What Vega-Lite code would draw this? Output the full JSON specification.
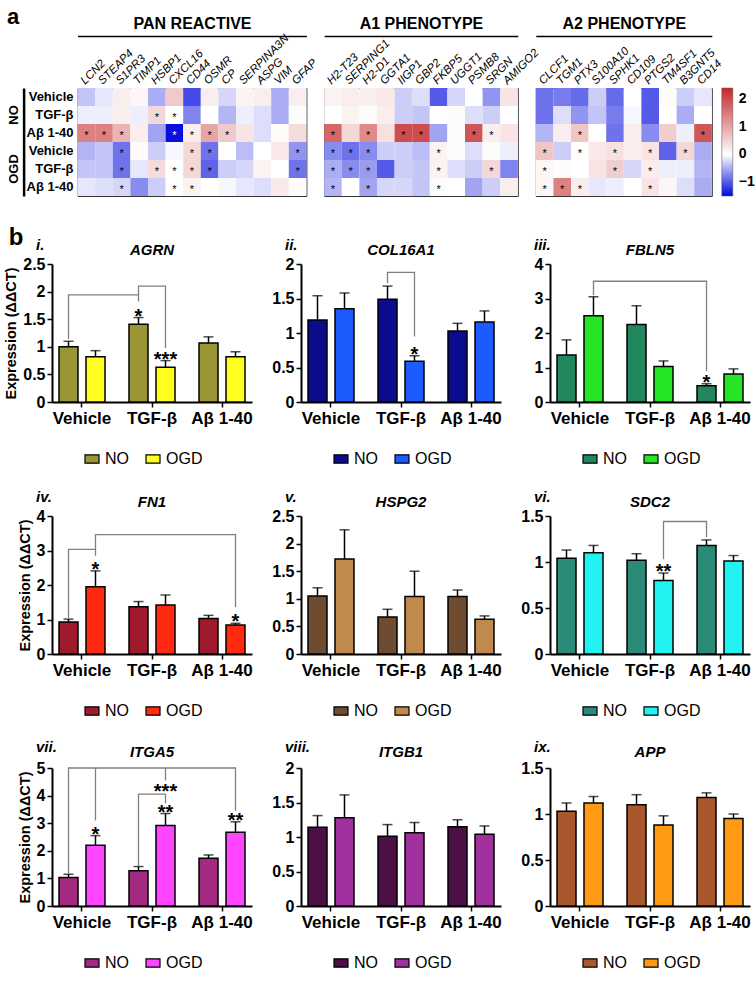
{
"$schema":"https://vega.github.io/schema/vega-lite/v6.json",
"background":"white",
"padding":{"left":3,"right":5,"top":5,"bottom":0},
"config":{"font":"Liberation Sans","view":{"stroke":null},"axis":{"grid":false,"labelColor":"black","domainColor":"black","tickColor":"black","titleColor":"black","labelFont":"Liberation Sans","titleFont":"Liberation Sans"},"title":{"color":"black","fontWeight":"bold","font":"Liberation Sans"},"text":{"color":"black"},"legend":{"labelColor":"black","labelFont":"Liberation Sans"}},
"datasets":{
"heat":[
{"g":"LCN2","r":"NO|Vehicle","v":-0.35,"s":""},{"g":"LCN2","r":"NO|TGF-β","v":-0.1,"s":""},{"g":"LCN2","r":"NO|Aβ 1-40","v":1.4,"s":"*"},{"g":"LCN2","r":"OGD|Vehicle","v":-0.45,"s":""},{"g":"LCN2","r":"OGD|TGF-β","v":-0.35,"s":""},{"g":"LCN2","r":"OGD|Aβ 1-40","v":-0.15,"s":""},
{"g":"STEAP4","r":"NO|Vehicle","v":-0.15,"s":""},{"g":"STEAP4","r":"NO|TGF-β","v":-0.1,"s":""},{"g":"STEAP4","r":"NO|Aβ 1-40","v":1.4,"s":"*"},{"g":"STEAP4","r":"OGD|Vehicle","v":-0.35,"s":""},{"g":"STEAP4","r":"OGD|TGF-β","v":-0.35,"s":""},{"g":"STEAP4","r":"OGD|Aβ 1-40","v":-0.2,"s":""},
{"g":"S1PR3","r":"NO|Vehicle","v":0.2,"s":""},{"g":"S1PR3","r":"NO|TGF-β","v":0.2,"s":""},{"g":"S1PR3","r":"NO|Aβ 1-40","v":0.85,"s":"*"},{"g":"S1PR3","r":"OGD|Vehicle","v":-0.85,"s":"*"},{"g":"S1PR3","r":"OGD|TGF-β","v":-0.85,"s":"*"},{"g":"S1PR3","r":"OGD|Aβ 1-40","v":-0.25,"s":"*"},
{"g":"TIMP1","r":"NO|Vehicle","v":0.1,"s":""},{"g":"TIMP1","r":"NO|TGF-β","v":-0.1,"s":""},{"g":"TIMP1","r":"NO|Aβ 1-40","v":0.2,"s":""},{"g":"TIMP1","r":"OGD|Vehicle","v":0.05,"s":""},{"g":"TIMP1","r":"OGD|TGF-β","v":-0.15,"s":""},{"g":"TIMP1","r":"OGD|Aβ 1-40","v":-0.7,"s":""},
{"g":"HSBP1","r":"NO|Vehicle","v":-0.5,"s":""},{"g":"HSBP1","r":"NO|TGF-β","v":0.45,"s":"*"},{"g":"HSBP1","r":"NO|Aβ 1-40","v":-0.55,"s":""},{"g":"HSBP1","r":"OGD|Vehicle","v":-0.3,"s":""},{"g":"HSBP1","r":"OGD|TGF-β","v":0.4,"s":"*"},{"g":"HSBP1","r":"OGD|Aβ 1-40","v":-0.3,"s":""},
{"g":"CXCL16","r":"NO|Vehicle","v":0.6,"s":""},{"g":"CXCL16","r":"NO|TGF-β","v":0.0,"s":"*"},{"g":"CXCL16","r":"NO|Aβ 1-40","v":-1.45,"s":"*"},{"g":"CXCL16","r":"OGD|Vehicle","v":-0.05,"s":""},{"g":"CXCL16","r":"OGD|TGF-β","v":0.0,"s":"*"},{"g":"CXCL16","r":"OGD|Aβ 1-40","v":0.0,"s":"*"},
{"g":"CD44","r":"NO|Vehicle","v":-1.1,"s":""},{"g":"CD44","r":"NO|TGF-β","v":-0.75,"s":""},{"g":"CD44","r":"NO|Aβ 1-40","v":0.2,"s":"*"},{"g":"CD44","r":"OGD|Vehicle","v":0.45,"s":"*"},{"g":"CD44","r":"OGD|TGF-β","v":0.45,"s":"*"},{"g":"CD44","r":"OGD|Aβ 1-40","v":0.15,"s":"*"},
{"g":"OSMR","r":"NO|Vehicle","v":0.2,"s":""},{"g":"OSMR","r":"NO|TGF-β","v":0.0,"s":""},{"g":"OSMR","r":"NO|Aβ 1-40","v":1.0,"s":"*"},{"g":"OSMR","r":"OGD|Vehicle","v":-0.85,"s":"*"},{"g":"OSMR","r":"OGD|TGF-β","v":-0.95,"s":"*"},{"g":"OSMR","r":"OGD|Aβ 1-40","v":0.0,"s":""},
{"g":"CP","r":"NO|Vehicle","v":-0.25,"s":""},{"g":"CP","r":"NO|TGF-β","v":-0.45,"s":""},{"g":"CP","r":"NO|Aβ 1-40","v":0.6,"s":"*"},{"g":"CP","r":"OGD|Vehicle","v":0.0,"s":""},{"g":"CP","r":"OGD|TGF-β","v":-0.3,"s":""},{"g":"CP","r":"OGD|Aβ 1-40","v":-0.05,"s":""},
{"g":"SERPINA3N","r":"NO|Vehicle","v":0.15,"s":""},{"g":"SERPINA3N","r":"NO|TGF-β","v":-0.1,"s":""},{"g":"SERPINA3N","r":"NO|Aβ 1-40","v":0.3,"s":""},{"g":"SERPINA3N","r":"OGD|Vehicle","v":-0.4,"s":""},{"g":"SERPINA3N","r":"OGD|TGF-β","v":-0.25,"s":""},{"g":"SERPINA3N","r":"OGD|Aβ 1-40","v":-0.15,"s":""},
{"g":"ASPG","r":"NO|Vehicle","v":0.2,"s":""},{"g":"ASPG","r":"NO|TGF-β","v":-0.2,"s":""},{"g":"ASPG","r":"NO|Aβ 1-40","v":-0.2,"s":""},{"g":"ASPG","r":"OGD|Vehicle","v":0.0,"s":""},{"g":"ASPG","r":"OGD|TGF-β","v":0.15,"s":""},{"g":"ASPG","r":"OGD|Aβ 1-40","v":-0.2,"s":""},
{"g":"VIM","r":"NO|Vehicle","v":-0.5,"s":""},{"g":"VIM","r":"NO|TGF-β","v":-0.5,"s":""},{"g":"VIM","r":"NO|Aβ 1-40","v":0.05,"s":""},{"g":"VIM","r":"OGD|Vehicle","v":0.25,"s":""},{"g":"VIM","r":"OGD|TGF-β","v":0.0,"s":""},{"g":"VIM","r":"OGD|Aβ 1-40","v":0.25,"s":""},
{"g":"GFAP","r":"NO|Vehicle","v":0.2,"s":""},{"g":"GFAP","r":"NO|TGF-β","v":0.05,"s":""},{"g":"GFAP","r":"NO|Aβ 1-40","v":0.4,"s":""},{"g":"GFAP","r":"OGD|Vehicle","v":-0.65,"s":"*"},{"g":"GFAP","r":"OGD|TGF-β","v":-0.85,"s":"*"},{"g":"GFAP","r":"OGD|Aβ 1-40","v":0.05,"s":""},
{"g":"H2-T23","r":"NO|Vehicle","v":0.15,"s":""},{"g":"H2-T23","r":"NO|TGF-β","v":0.0,"s":""},{"g":"H2-T23","r":"NO|Aβ 1-40","v":1.7,"s":"*"},{"g":"H2-T23","r":"OGD|Vehicle","v":-0.7,"s":"*"},{"g":"H2-T23","r":"OGD|TGF-β","v":-0.5,"s":"*"},{"g":"H2-T23","r":"OGD|Aβ 1-40","v":-0.45,"s":"*"},
{"g":"SERPING1","r":"NO|Vehicle","v":0.2,"s":""},{"g":"SERPING1","r":"NO|TGF-β","v":0.15,"s":""},{"g":"SERPING1","r":"NO|Aβ 1-40","v":0.45,"s":""},{"g":"SERPING1","r":"OGD|Vehicle","v":-0.85,"s":"*"},{"g":"SERPING1","r":"OGD|TGF-β","v":-0.7,"s":"*"},{"g":"SERPING1","r":"OGD|Aβ 1-40","v":0.0,"s":""},
{"g":"H2-D1","r":"NO|Vehicle","v":0.2,"s":""},{"g":"H2-D1","r":"NO|TGF-β","v":0.05,"s":""},{"g":"H2-D1","r":"NO|Aβ 1-40","v":1.3,"s":"*"},{"g":"H2-D1","r":"OGD|Vehicle","v":-0.7,"s":"*"},{"g":"H2-D1","r":"OGD|TGF-β","v":-0.6,"s":"*"},{"g":"H2-D1","r":"OGD|Aβ 1-40","v":-0.55,"s":"*"},
{"g":"GGTA1","r":"NO|Vehicle","v":0.25,"s":""},{"g":"GGTA1","r":"NO|TGF-β","v":0.2,"s":""},{"g":"GGTA1","r":"NO|Aβ 1-40","v":0.35,"s":""},{"g":"GGTA1","r":"OGD|Vehicle","v":-0.3,"s":""},{"g":"GGTA1","r":"OGD|TGF-β","v":-1.0,"s":""},{"g":"GGTA1","r":"OGD|Aβ 1-40","v":-0.25,"s":""},
{"g":"IIGP1","r":"NO|Vehicle","v":-0.3,"s":""},{"g":"IIGP1","r":"NO|TGF-β","v":-0.3,"s":""},{"g":"IIGP1","r":"NO|Aβ 1-40","v":2.0,"s":"*"},{"g":"IIGP1","r":"OGD|Vehicle","v":-0.3,"s":""},{"g":"IIGP1","r":"OGD|TGF-β","v":-0.3,"s":""},{"g":"IIGP1","r":"OGD|Aβ 1-40","v":-0.25,"s":""},
{"g":"GBP2","r":"NO|Vehicle","v":-0.2,"s":""},{"g":"GBP2","r":"NO|TGF-β","v":-0.35,"s":""},{"g":"GBP2","r":"NO|Aβ 1-40","v":2.0,"s":"*"},{"g":"GBP2","r":"OGD|Vehicle","v":-0.4,"s":""},{"g":"GBP2","r":"OGD|TGF-β","v":-0.35,"s":""},{"g":"GBP2","r":"OGD|Aβ 1-40","v":-0.35,"s":""},
{"g":"FKBP5","r":"NO|Vehicle","v":-1.0,"s":""},{"g":"FKBP5","r":"NO|TGF-β","v":0.0,"s":""},{"g":"FKBP5","r":"NO|Aβ 1-40","v":-0.55,"s":""},{"g":"FKBP5","r":"OGD|Vehicle","v":0.15,"s":"*"},{"g":"FKBP5","r":"OGD|TGF-β","v":0.15,"s":"*"},{"g":"FKBP5","r":"OGD|Aβ 1-40","v":0.05,"s":"*"},
{"g":"UGGT1","r":"NO|Vehicle","v":-0.25,"s":""},{"g":"UGGT1","r":"NO|TGF-β","v":0.05,"s":""},{"g":"UGGT1","r":"NO|Aβ 1-40","v":0.05,"s":""},{"g":"UGGT1","r":"OGD|Vehicle","v":0.05,"s":""},{"g":"UGGT1","r":"OGD|TGF-β","v":-0.2,"s":""},{"g":"UGGT1","r":"OGD|Aβ 1-40","v":0.0,"s":""},
{"g":"PSMB8","r":"NO|Vehicle","v":0.0,"s":""},{"g":"PSMB8","r":"NO|TGF-β","v":-0.2,"s":""},{"g":"PSMB8","r":"NO|Aβ 1-40","v":1.9,"s":"*"},{"g":"PSMB8","r":"OGD|Vehicle","v":-0.2,"s":""},{"g":"PSMB8","r":"OGD|TGF-β","v":-0.3,"s":""},{"g":"PSMB8","r":"OGD|Aβ 1-40","v":-0.55,"s":""},
{"g":"SRGN","r":"NO|Vehicle","v":-0.65,"s":""},{"g":"SRGN","r":"NO|TGF-β","v":-0.3,"s":""},{"g":"SRGN","r":"NO|Aβ 1-40","v":0.2,"s":"*"},{"g":"SRGN","r":"OGD|Vehicle","v":0.05,"s":""},{"g":"SRGN","r":"OGD|TGF-β","v":0.45,"s":"*"},{"g":"SRGN","r":"OGD|Aβ 1-40","v":-0.3,"s":""},
{"g":"AMIGO2","r":"NO|Vehicle","v":0.3,"s":""},{"g":"AMIGO2","r":"NO|TGF-β","v":0.0,"s":""},{"g":"AMIGO2","r":"NO|Aβ 1-40","v":0.3,"s":""},{"g":"AMIGO2","r":"OGD|Vehicle","v":-0.1,"s":""},{"g":"AMIGO2","r":"OGD|TGF-β","v":-0.75,"s":""},{"g":"AMIGO2","r":"OGD|Aβ 1-40","v":0.2,"s":""},
{"g":"CLCF1","r":"NO|Vehicle","v":-0.85,"s":""},{"g":"CLCF1","r":"NO|TGF-β","v":-0.85,"s":""},{"g":"CLCF1","r":"NO|Aβ 1-40","v":-0.45,"s":""},{"g":"CLCF1","r":"OGD|Vehicle","v":0.65,"s":"*"},{"g":"CLCF1","r":"OGD|TGF-β","v":0.1,"s":"*"},{"g":"CLCF1","r":"OGD|Aβ 1-40","v":0.1,"s":"*"},
{"g":"TGM1","r":"NO|Vehicle","v":-0.8,"s":""},{"g":"TGM1","r":"NO|TGF-β","v":-0.2,"s":""},{"g":"TGM1","r":"NO|Aβ 1-40","v":0.2,"s":""},{"g":"TGM1","r":"OGD|Vehicle","v":-0.3,"s":""},{"g":"TGM1","r":"OGD|TGF-β","v":0.05,"s":""},{"g":"TGM1","r":"OGD|Aβ 1-40","v":1.4,"s":"*"},
{"g":"PTX3","r":"NO|Vehicle","v":-0.9,"s":""},{"g":"PTX3","r":"NO|TGF-β","v":-0.65,"s":""},{"g":"PTX3","r":"NO|Aβ 1-40","v":0.65,"s":"*"},{"g":"PTX3","r":"OGD|Vehicle","v":0.0,"s":"*"},{"g":"PTX3","r":"OGD|TGF-β","v":0.0,"s":""},{"g":"PTX3","r":"OGD|Aβ 1-40","v":0.2,"s":"*"},
{"g":"S100A10","r":"NO|Vehicle","v":-0.3,"s":""},{"g":"S100A10","r":"NO|TGF-β","v":-0.35,"s":""},{"g":"S100A10","r":"NO|Aβ 1-40","v":0.0,"s":""},{"g":"S100A10","r":"OGD|Vehicle","v":0.25,"s":""},{"g":"S100A10","r":"OGD|TGF-β","v":0.3,"s":""},{"g":"S100A10","r":"OGD|Aβ 1-40","v":-0.15,"s":""},
{"g":"SPHK1","r":"NO|Vehicle","v":-0.9,"s":""},{"g":"SPHK1","r":"NO|TGF-β","v":-0.8,"s":""},{"g":"SPHK1","r":"NO|Aβ 1-40","v":-0.85,"s":""},{"g":"SPHK1","r":"OGD|Vehicle","v":0.35,"s":"*"},{"g":"SPHK1","r":"OGD|TGF-β","v":0.55,"s":"*"},{"g":"SPHK1","r":"OGD|Aβ 1-40","v":-0.1,"s":""},
{"g":"CD109","r":"NO|Vehicle","v":0.0,"s":""},{"g":"CD109","r":"NO|TGF-β","v":-0.05,"s":""},{"g":"CD109","r":"NO|Aβ 1-40","v":0.2,"s":""},{"g":"CD109","r":"OGD|Vehicle","v":0.2,"s":""},{"g":"CD109","r":"OGD|TGF-β","v":-0.25,"s":""},{"g":"CD109","r":"OGD|Aβ 1-40","v":0.0,"s":""},
{"g":"PTGS2","r":"NO|Vehicle","v":-1.0,"s":""},{"g":"PTGS2","r":"NO|TGF-β","v":-1.0,"s":""},{"g":"PTGS2","r":"NO|Aβ 1-40","v":-0.7,"s":""},{"g":"PTGS2","r":"OGD|Vehicle","v":0.3,"s":"*"},{"g":"PTGS2","r":"OGD|TGF-β","v":0.2,"s":"*"},{"g":"PTGS2","r":"OGD|Aβ 1-40","v":0.3,"s":"*"},
{"g":"TM4SF1","r":"NO|Vehicle","v":0.05,"s":""},{"g":"TM4SF1","r":"NO|TGF-β","v":0.0,"s":""},{"g":"TM4SF1","r":"NO|Aβ 1-40","v":0.55,"s":""},{"g":"TM4SF1","r":"OGD|Vehicle","v":-0.95,"s":""},{"g":"TM4SF1","r":"OGD|TGF-β","v":-0.1,"s":""},{"g":"TM4SF1","r":"OGD|Aβ 1-40","v":0.1,"s":""},
{"g":"B3GNT5","r":"NO|Vehicle","v":-0.3,"s":""},{"g":"B3GNT5","r":"NO|TGF-β","v":-0.5,"s":""},{"g":"B3GNT5","r":"NO|Aβ 1-40","v":-0.1,"s":""},{"g":"B3GNT5","r":"OGD|Vehicle","v":0.45,"s":"*"},{"g":"B3GNT5","r":"OGD|TGF-β","v":-0.1,"s":""},{"g":"B3GNT5","r":"OGD|Aβ 1-40","v":-0.2,"s":""},
{"g":"CD14","r":"NO|Vehicle","v":-0.15,"s":""},{"g":"CD14","r":"NO|TGF-β","v":0.0,"s":""},{"g":"CD14","r":"NO|Aβ 1-40","v":1.9,"s":"*"},{"g":"CD14","r":"OGD|Vehicle","v":-0.5,"s":""},{"g":"CD14","r":"OGD|TGF-β","v":-0.45,"s":""},{"g":"CD14","r":"OGD|Aβ 1-40","v":-0.5,"s":""}
],
"bars":[
{"p":"i","t":"Vehicle","c":"NO","m":1.0,"hi":1.1,"s":""},{"p":"i","t":"Vehicle","c":"OGD","m":0.82,"hi":0.93,"s":""},{"p":"i","t":"TGF-β","c":"NO","m":1.41,"hi":1.53,"s":"*"},{"p":"i","t":"TGF-β","c":"OGD","m":0.63,"hi":0.75,"s":"***"},{"p":"i","t":"Aβ 1-40","c":"NO","m":1.07,"hi":1.18,"s":""},{"p":"i","t":"Aβ 1-40","c":"OGD","m":0.82,"hi":0.91,"s":""},
{"p":"ii","t":"Vehicle","c":"NO","m":1.19,"hi":1.54,"s":""},{"p":"ii","t":"Vehicle","c":"OGD","m":1.35,"hi":1.58,"s":""},{"p":"ii","t":"TGF-β","c":"NO","m":1.49,"hi":1.68,"s":""},{"p":"ii","t":"TGF-β","c":"OGD","m":0.59,"hi":0.67,"s":"*"},{"p":"ii","t":"Aβ 1-40","c":"NO","m":1.03,"hi":1.14,"s":""},{"p":"ii","t":"Aβ 1-40","c":"OGD","m":1.16,"hi":1.32,"s":""},
{"p":"iii","t":"Vehicle","c":"NO","m":1.36,"hi":1.8,"s":""},{"p":"iii","t":"Vehicle","c":"OGD","m":2.5,"hi":3.05,"s":""},{"p":"iii","t":"TGF-β","c":"NO","m":2.25,"hi":2.79,"s":""},{"p":"iii","t":"TGF-β","c":"OGD","m":1.03,"hi":1.19,"s":""},{"p":"iii","t":"Aβ 1-40","c":"NO","m":0.47,"hi":0.53,"s":"*"},{"p":"iii","t":"Aβ 1-40","c":"OGD","m":0.81,"hi":0.96,"s":""},
{"p":"iv","t":"Vehicle","c":"NO","m":0.93,"hi":1.01,"s":""},{"p":"iv","t":"Vehicle","c":"OGD","m":1.95,"hi":2.41,"s":"*"},{"p":"iv","t":"TGF-β","c":"NO","m":1.37,"hi":1.52,"s":""},{"p":"iv","t":"TGF-β","c":"OGD","m":1.42,"hi":1.71,"s":""},{"p":"iv","t":"Aβ 1-40","c":"NO","m":1.03,"hi":1.12,"s":""},{"p":"iv","t":"Aβ 1-40","c":"OGD","m":0.84,"hi":0.89,"s":"*"},
{"p":"v","t":"Vehicle","c":"NO","m":1.05,"hi":1.2,"s":""},{"p":"v","t":"Vehicle","c":"OGD","m":1.72,"hi":2.25,"s":""},{"p":"v","t":"TGF-β","c":"NO","m":0.67,"hi":0.81,"s":""},{"p":"v","t":"TGF-β","c":"OGD","m":1.04,"hi":1.5,"s":""},{"p":"v","t":"Aβ 1-40","c":"NO","m":1.04,"hi":1.16,"s":""},{"p":"v","t":"Aβ 1-40","c":"OGD","m":0.63,"hi":0.69,"s":""},
{"p":"vi","t":"Vehicle","c":"NO","m":1.04,"hi":1.13,"s":""},{"p":"vi","t":"Vehicle","c":"OGD","m":1.1,"hi":1.18,"s":""},{"p":"vi","t":"TGF-β","c":"NO","m":1.02,"hi":1.09,"s":""},{"p":"vi","t":"TGF-β","c":"OGD","m":0.8,"hi":0.88,"s":"**"},{"p":"vi","t":"Aβ 1-40","c":"NO","m":1.18,"hi":1.24,"s":""},{"p":"vi","t":"Aβ 1-40","c":"OGD","m":1.01,"hi":1.07,"s":""},
{"p":"vii","t":"Vehicle","c":"NO","m":1.03,"hi":1.15,"s":""},{"p":"vii","t":"Vehicle","c":"OGD","m":2.2,"hi":2.55,"s":"*"},{"p":"vii","t":"TGF-β","c":"NO","m":1.28,"hi":1.43,"s":""},{"p":"vii","t":"TGF-β","c":"OGD","m":2.92,"hi":3.35,"s":"**"},{"p":"vii","t":"Aβ 1-40","c":"NO","m":1.73,"hi":1.85,"s":""},{"p":"vii","t":"Aβ 1-40","c":"OGD","m":2.67,"hi":3.05,"s":"**"},
{"p":"viii","t":"Vehicle","c":"NO","m":1.14,"hi":1.31,"s":""},{"p":"viii","t":"Vehicle","c":"OGD","m":1.28,"hi":1.61,"s":""},{"p":"viii","t":"TGF-β","c":"NO","m":1.01,"hi":1.18,"s":""},{"p":"viii","t":"TGF-β","c":"OGD","m":1.06,"hi":1.21,"s":""},{"p":"viii","t":"Aβ 1-40","c":"NO","m":1.15,"hi":1.25,"s":""},{"p":"viii","t":"Aβ 1-40","c":"OGD","m":1.04,"hi":1.16,"s":""},
{"p":"ix","t":"Vehicle","c":"NO","m":1.03,"hi":1.12,"s":""},{"p":"ix","t":"Vehicle","c":"OGD","m":1.12,"hi":1.19,"s":""},{"p":"ix","t":"TGF-β","c":"NO","m":1.1,"hi":1.21,"s":""},{"p":"ix","t":"TGF-β","c":"OGD","m":0.88,"hi":0.98,"s":""},{"p":"ix","t":"Aβ 1-40","c":"NO","m":1.18,"hi":1.23,"s":""},{"p":"ix","t":"Aβ 1-40","c":"OGD","m":0.95,"hi":1.0,"s":""}
],
"br":[
{"p":"i","b":"1","o":1,"t":"Vehicle","c":"NO","y":1.14},{"p":"i","b":"1","o":2,"t":"Vehicle","c":"NO","y":1.94},{"p":"i","b":"1","o":3,"t":"TGF-β","c":"NO","y":1.94},{"p":"i","b":"1","o":4,"t":"TGF-β","c":"NO","y":1.82},
{"p":"i","b":"2","o":1,"t":"TGF-β","c":"NO","y":1.94},{"p":"i","b":"2","o":2,"t":"TGF-β","c":"NO","y":2.1},{"p":"i","b":"2","o":3,"t":"TGF-β","c":"OGD","y":2.1},{"p":"i","b":"2","o":4,"t":"TGF-β","c":"OGD","y":0.98},
{"p":"ii","b":"1","o":1,"t":"TGF-β","c":"NO","y":1.72},{"p":"ii","b":"1","o":2,"t":"TGF-β","c":"NO","y":1.88},{"p":"ii","b":"1","o":3,"t":"TGF-β","c":"OGD","y":1.88},{"p":"ii","b":"1","o":4,"t":"TGF-β","c":"OGD","y":0.95},
{"p":"iii","b":"1","o":1,"t":"Vehicle","c":"OGD","y":3.1},{"p":"iii","b":"1","o":2,"t":"Vehicle","c":"OGD","y":3.5},{"p":"iii","b":"1","o":3,"t":"Aβ 1-40","c":"NO","y":3.5},{"p":"iii","b":"1","o":4,"t":"Aβ 1-40","c":"NO","y":0.9},
{"p":"iv","b":"1","o":1,"t":"Vehicle","c":"NO","y":1.04},{"p":"iv","b":"1","o":2,"t":"Vehicle","c":"NO","y":3.03},{"p":"iv","b":"1","o":3,"t":"Vehicle","c":"OGD","y":3.03},{"p":"iv","b":"1","o":4,"t":"Vehicle","c":"OGD","y":2.85},
{"p":"iv","b":"2","o":1,"t":"Vehicle","c":"OGD","y":3.03},{"p":"iv","b":"2","o":2,"t":"Vehicle","c":"OGD","y":3.46},{"p":"iv","b":"2","o":3,"t":"Aβ 1-40","c":"OGD","y":3.46},{"p":"iv","b":"2","o":4,"t":"Aβ 1-40","c":"OGD","y":1.36},
{"p":"vi","b":"1","o":1,"t":"TGF-β","c":"OGD","y":1.03},{"p":"vi","b":"1","o":2,"t":"TGF-β","c":"OGD","y":1.44},{"p":"vi","b":"1","o":3,"t":"Aβ 1-40","c":"NO","y":1.44},{"p":"vi","b":"1","o":4,"t":"Aβ 1-40","c":"NO","y":1.27},
{"p":"vii","b":"1","o":1,"t":"Vehicle","c":"NO","y":1.17},{"p":"vii","b":"1","o":2,"t":"Vehicle","c":"NO","y":5},{"p":"vii","b":"1","o":3,"t":"Aβ 1-40","c":"OGD","y":5},{"p":"vii","b":"1","o":4,"t":"Aβ 1-40","c":"OGD","y":3.45},
{"p":"vii","b":"2","o":1,"t":"Vehicle","c":"OGD","y":5},{"p":"vii","b":"2","o":2,"t":"Vehicle","c":"OGD","y":3.1},
{"p":"vii","b":"3","o":1,"t":"TGF-β","c":"OGD","y":5},{"p":"vii","b":"3","o":2,"t":"TGF-β","c":"OGD","y":4.55},
{"p":"vii","b":"4","o":1,"t":"TGF-β","c":"NO","y":1.46},{"p":"vii","b":"4","o":2,"t":"TGF-β","c":"NO","y":4.05},{"p":"vii","b":"4","o":3,"t":"TGF-β","c":"OGD","y":4.05},{"p":"vii","b":"4","o":4,"t":"TGF-β","c":"OGD","y":3.72}
],
"ann":[{"p":"vii","t":"TGF-β","c":"OGD","y":4.1,"s":"***"}]
},
"vconcat":[
{
"title":{"text":"a","anchor":"start","frame":"bounds","fontSize":22,"offset":-14},
"hconcat":[
{"width":7.4,"height":108,
"data":{"name":"heat"},
"transform":[{"filter":{"field":"g","equal":"LCN2"}}],
"mark":{"type":"text","text":""},
"encoding":{
"y":{"field":"r","type":"nominal","scale":{"type":"band","domain":["NO|Vehicle","NO|TGF-β","NO|Aβ 1-40","OGD|Vehicle","OGD|TGF-β","OGD|Aβ 1-40"],"paddingInner":0,"paddingOuter":0},"axis":{"orient":"right","title":null,"domain":false,"ticks":false,"tickSize":0,"labelAlign":"right","labelPadding":13.6,"labelExpr":"split(datum.label,'|')[1]","labelFontSize":13,"labelFontWeight":"bold"}}}},
{"width":228.8,"height":108,"view":{"stroke":"#333","strokeWidth":1},
"data":{"name":"heat"},
"transform":[{"filter":{"field":"g","oneOf":["LCN2","STEAP4","S1PR3","TIMP1","HSBP1","CXCL16","CD44","OSMR","CP","SERPINA3N","ASPG","VIM","GFAP"]}}],
"layer":[
{"mark":{"type":"rect"},"encoding":{
"x":{"field":"g","type":"nominal","scale":{"type":"band","domain":["LCN2","STEAP4","S1PR3","TIMP1","HSBP1","CXCL16","CD44","OSMR","CP","SERPINA3N","ASPG","VIM","GFAP"],"paddingInner":0,"paddingOuter":0},"axis":{"orient":"top","title":null,"labelAngle":-45,"labelFontSize":11.5,"labelFontStyle":"italic","labelPadding":2,"domain":false,"ticks":false,"labelOverlap":false}},
"y":{"field":"r","type":"nominal","scale":{"type":"band","domain":["NO|Vehicle","NO|TGF-β","NO|Aβ 1-40","OGD|Vehicle","OGD|TGF-β","OGD|Aβ 1-40"],"paddingInner":0,"paddingOuter":0},"axis":null},
"color":{"field":"v","type":"quantitative","scale":{"type":"linear","domain":[-1.5,0,2.4],"range":["#0008dc","#ffffff","#c4282a"],"interpolate":"rgb"},"legend":null}}},
{"mark":{"type":"text","fontSize":11,"dy":3},"encoding":{
"x":{"field":"g","type":"nominal","scale":{"type":"band","domain":["LCN2","STEAP4","S1PR3","TIMP1","HSBP1","CXCL16","CD44","OSMR","CP","SERPINA3N","ASPG","VIM","GFAP"],"paddingInner":0,"paddingOuter":0},"axis":{"orient":"top","offset":52,"title":"PAN REACTIVE","titleFontSize":16,"titleFontWeight":"bold","titlePadding":5,"labels":false,"ticks":false,"domain":true,"domainWidth":1.5}},
"y":{"field":"r","type":"nominal","scale":{"type":"band","domain":["NO|Vehicle","NO|TGF-β","NO|Aβ 1-40","OGD|Vehicle","OGD|TGF-β","OGD|Aβ 1-40"],"paddingInner":0,"paddingOuter":0},"axis":{"orient":"left","offset":54,"title":null,"ticks":false,"domainWidth":2.5,"labelAngle":-90,"labelFontSize":13,"labelFontWeight":"bold","labelPadding":3,"labelExpr":"datum.label=='NO|TGF-β'?'NO':(datum.label=='OGD|TGF-β'?'OGD':'')"}},
"text":{"field":"s"},
"color":{"condition":{"test":"datum.v < -1","value":"white"},"value":"black"}}}
],
"resolve":{"scale":{"x":"independent","y":"independent"},"axis":{"x":"independent","y":"independent"}}},
{"width":193.6,"height":108,"view":{"stroke":"#333","strokeWidth":1},
"data":{"name":"heat"},
"transform":[{"filter":{"field":"g","oneOf":["H2-T23","SERPING1","H2-D1","GGTA1","IIGP1","GBP2","FKBP5","UGGT1","PSMB8","SRGN","AMIGO2"]}}],
"layer":[
{"mark":{"type":"rect"},"encoding":{
"x":{"field":"g","type":"nominal","scale":{"type":"band","domain":["H2-T23","SERPING1","H2-D1","GGTA1","IIGP1","GBP2","FKBP5","UGGT1","PSMB8","SRGN","AMIGO2"],"paddingInner":0,"paddingOuter":0},"axis":{"orient":"top","title":null,"labelAngle":-45,"labelFontSize":11.5,"labelFontStyle":"italic","labelPadding":2,"domain":false,"ticks":false,"labelOverlap":false}},
"y":{"field":"r","type":"nominal","scale":{"type":"band","domain":["NO|Vehicle","NO|TGF-β","NO|Aβ 1-40","OGD|Vehicle","OGD|TGF-β","OGD|Aβ 1-40"],"paddingInner":0,"paddingOuter":0},"axis":null},
"color":{"field":"v","type":"quantitative","scale":{"type":"linear","domain":[-1.5,0,2.4],"range":["#0008dc","#ffffff","#c4282a"],"interpolate":"rgb"},"legend":null}}},
{"mark":{"type":"text","fontSize":11,"dy":3},"encoding":{
"x":{"field":"g","type":"nominal","scale":{"type":"band","domain":["H2-T23","SERPING1","H2-D1","GGTA1","IIGP1","GBP2","FKBP5","UGGT1","PSMB8","SRGN","AMIGO2"],"paddingInner":0,"paddingOuter":0},"axis":{"orient":"top","offset":52,"title":"A1 PHENOTYPE","titleFontSize":16,"titleFontWeight":"bold","titlePadding":5,"labels":false,"ticks":false,"domain":true,"domainWidth":1.5}},
"y":{"field":"r","type":"nominal","scale":{"type":"band","domain":["NO|Vehicle","NO|TGF-β","NO|Aβ 1-40","OGD|Vehicle","OGD|TGF-β","OGD|Aβ 1-40"],"paddingInner":0,"paddingOuter":0},"axis":null},
"text":{"field":"s"},
"color":{"condition":{"test":"datum.v < -1","value":"white"},"value":"black"}}}
],
"resolve":{"scale":{"x":"independent","y":"independent"},"axis":{"x":"independent","y":"independent"}}},
{"width":176,"height":108,"view":{"stroke":"#333","strokeWidth":1},
"data":{"name":"heat"},
"transform":[{"filter":{"field":"g","oneOf":["CLCF1","TGM1","PTX3","S100A10","SPHK1","CD109","PTGS2","TM4SF1","B3GNT5","CD14"]}}],
"layer":[
{"mark":{"type":"rect"},"encoding":{
"x":{"field":"g","type":"nominal","scale":{"type":"band","domain":["CLCF1","TGM1","PTX3","S100A10","SPHK1","CD109","PTGS2","TM4SF1","B3GNT5","CD14"],"paddingInner":0,"paddingOuter":0},"axis":{"orient":"top","title":null,"labelAngle":-45,"labelFontSize":11.5,"labelFontStyle":"italic","labelPadding":2,"domain":false,"ticks":false,"labelOverlap":false}},
"y":{"field":"r","type":"nominal","scale":{"type":"band","domain":["NO|Vehicle","NO|TGF-β","NO|Aβ 1-40","OGD|Vehicle","OGD|TGF-β","OGD|Aβ 1-40"],"paddingInner":0,"paddingOuter":0},"axis":null},
"color":{"field":"v","type":"quantitative","scale":{"type":"linear","domain":[-1.5,0,2.4],"range":["#0008dc","#ffffff","#c4282a"],"interpolate":"rgb"},"legend":{"orient":"none","legendX":186,"legendY":0,"direction":"vertical","title":null,"gradientLength":108,"gradientThickness":11,"values":[-1,0,1,2],"labelFontSize":14,"labelFontWeight":"bold","labelOffset":6,"gradientStrokeColor":"#555","gradientStrokeWidth":0.5}}}},
{"mark":{"type":"text","fontSize":11,"dy":3},"encoding":{
"x":{"field":"g","type":"nominal","scale":{"type":"band","domain":["CLCF1","TGM1","PTX3","S100A10","SPHK1","CD109","PTGS2","TM4SF1","B3GNT5","CD14"],"paddingInner":0,"paddingOuter":0},"axis":{"orient":"top","offset":52,"title":"A2 PHENOTYPE","titleFontSize":16,"titleFontWeight":"bold","titlePadding":5,"labels":false,"ticks":false,"domain":true,"domainWidth":1.5}},
"y":{"field":"r","type":"nominal","scale":{"type":"band","domain":["NO|Vehicle","NO|TGF-β","NO|Aβ 1-40","OGD|Vehicle","OGD|TGF-β","OGD|Aβ 1-40"],"paddingInner":0,"paddingOuter":0},"axis":null},
"text":{"field":"s"},
"color":{"condition":{"test":"datum.v < -1","value":"white"},"value":"black"}}}
],
"resolve":{"scale":{"x":"independent","y":"independent"},"axis":{"x":"independent","y":"independent"}}}
],
"spacing":17.6,
"bounds":"flush",
"resolve":{"scale":{"color":"independent"},"legend":{"color":"independent"}}
},
{
"title":{"text":"b","anchor":"start","frame":"bounds","fontSize":24,"offset":-12,"dx":5},
"columns":3,
"spacing":{"row":114,"column":49},
"bounds":"flush",
"resolve":{"scale":{"color":"independent"},"legend":{"color":"independent"}},
"concat":[
{"width":200,"height":138,"title":{"text":"i.","anchor":"start","frame":"group","dx":-16,"fontSize":15,"fontStyle":"italic","offset":-10},
"resolve":{"axis":{"y":"independent"}},
"encoding":{"x":{"field":"t","type":"nominal","sort":["Vehicle","TGF-β","Aβ 1-40"],"scale":{"type":"band","paddingInner":0.343,"paddingOuter":0.1},"axis":{"title":null,"labelAngle":0,"labelFontSize":17,"labelFontWeight":"bold","labelPadding":3,"tickSize":5,"tickWidth":1.5,"domainWidth":2}}},
"layer":[
{"data":{"name":"bars"},"transform":[{"filter":"datum.p=='i'"}],"mark":{"type":"bar","stroke":"black","strokeWidth":1.5},"encoding":{"xOffset":{"field":"c","type":"nominal","sort":["NO","OGD"],"scale":{"type":"band","paddingInner":0.296,"paddingOuter":0}},"y":{"field":"m","type":"quantitative","scale":{"domain":[0,2.5],"nice":false},"axis":{"title":"Expression (ΔΔCT)","values":[0,0.5,1,1.5,2,2.5],"format":"~g","labelOverlap":false,"labelFontSize":16,"labelFontWeight":"bold","tickSize":5,"tickWidth":1.5,"domainWidth":2,"titleFontSize":14.5,"titleFontWeight":"bold","titlePadding":4,"labelPadding":2}},"color":{"field":"c","type":"nominal","scale":{"domain":["NO","OGD"],"range":["#9a9535","#ffff1f"]},"legend":{"orient":"none","legendX":32,"legendY":187,"direction":"horizontal","title":null,"symbolType":"M-1,-0.6H1V0.6H-1Z","symbolSize":196,"symbolStrokeColor":"black","symbolStrokeWidth":1.2,"labelFontSize":16,"columnPadding":14,"labelOffset":5}}}},
{"data":{"name":"bars"},"transform":[{"filter":"datum.p=='i'"}],"mark":{"type":"rule","color":"black","strokeWidth":1.5},"encoding":{"xOffset":{"field":"c","type":"nominal","sort":["NO","OGD"]},"y":{"field":"m","type":"quantitative","axis":null},"y2":{"field":"hi"}}},
{"data":{"name":"bars"},"transform":[{"filter":"datum.p=='i'"}],"mark":{"type":"tick","color":"black","thickness":1.5,"size":10,"orient":"horizontal"},"encoding":{"xOffset":{"field":"c","type":"nominal","sort":["NO","OGD"]},"y":{"field":"hi","type":"quantitative","axis":null}}},
{"data":{"name":"bars"},"transform":[{"filter":"datum.p=='i'"}],"mark":{"type":"text","fontSize":20,"fontWeight":"bold","baseline":"alphabetic","dy":5},"encoding":{"xOffset":{"field":"c","type":"nominal","sort":["NO","OGD"]},"y":{"field":"hi","type":"quantitative","axis":null},"text":{"field":"s"}}},
{"data":{"name":"br"},"transform":[{"filter":"datum.p=='i'"}],"mark":{"type":"line","color":"#808080","strokeWidth":1.3},"encoding":{"xOffset":{"field":"c","type":"nominal","sort":["NO","OGD"]},"y":{"field":"y","type":"quantitative","axis":null},"detail":{"field":"b","type":"nominal"},"order":{"field":"o","type":"quantitative"}}},
{"data":{"values":[{"gene":"AGRN"}]},"mark":{"type":"text","fontSize":15,"fontStyle":"italic","fontWeight":"bold","dy":-14},"encoding":{"x":{"datum":"TGF-β"},"y":{"datum":2.5,"axis":null},"text":{"field":"gene"}}}
]},
{"width":200,"height":138,"title":{"text":"ii.","anchor":"start","frame":"group","dx":-16,"fontSize":15,"fontStyle":"italic","offset":-10},
"resolve":{"axis":{"y":"independent"}},
"encoding":{"x":{"field":"t","type":"nominal","sort":["Vehicle","TGF-β","Aβ 1-40"],"scale":{"type":"band","paddingInner":0.343,"paddingOuter":0.1},"axis":{"title":null,"labelAngle":0,"labelFontSize":17,"labelFontWeight":"bold","labelPadding":3,"tickSize":5,"tickWidth":1.5,"domainWidth":2}}},
"layer":[
{"data":{"name":"bars"},"transform":[{"filter":"datum.p=='ii'"}],"mark":{"type":"bar","stroke":"black","strokeWidth":1.5},"encoding":{"xOffset":{"field":"c","type":"nominal","sort":["NO","OGD"],"scale":{"type":"band","paddingInner":0.296,"paddingOuter":0}},"y":{"field":"m","type":"quantitative","scale":{"domain":[0,2],"nice":false},"axis":{"title":null,"values":[0,0.5,1,1.5,2],"format":"~g","labelOverlap":false,"labelFontSize":16,"labelFontWeight":"bold","tickSize":5,"tickWidth":1.5,"domainWidth":2,"labelPadding":2}},"color":{"field":"c","type":"nominal","scale":{"domain":["NO","OGD"],"range":["#0b0b8e","#1c5cff"]},"legend":{"orient":"none","legendX":32,"legendY":187,"direction":"horizontal","title":null,"symbolType":"M-1,-0.6H1V0.6H-1Z","symbolSize":196,"symbolStrokeColor":"black","symbolStrokeWidth":1.2,"labelFontSize":16,"columnPadding":14,"labelOffset":5}}}},
{"data":{"name":"bars"},"transform":[{"filter":"datum.p=='ii'"}],"mark":{"type":"rule","color":"black","strokeWidth":1.5},"encoding":{"xOffset":{"field":"c","type":"nominal","sort":["NO","OGD"]},"y":{"field":"m","type":"quantitative","axis":null},"y2":{"field":"hi"}}},
{"data":{"name":"bars"},"transform":[{"filter":"datum.p=='ii'"}],"mark":{"type":"tick","color":"black","thickness":1.5,"size":10,"orient":"horizontal"},"encoding":{"xOffset":{"field":"c","type":"nominal","sort":["NO","OGD"]},"y":{"field":"hi","type":"quantitative","axis":null}}},
{"data":{"name":"bars"},"transform":[{"filter":"datum.p=='ii'"}],"mark":{"type":"text","fontSize":20,"fontWeight":"bold","baseline":"alphabetic","dy":5},"encoding":{"xOffset":{"field":"c","type":"nominal","sort":["NO","OGD"]},"y":{"field":"hi","type":"quantitative","axis":null},"text":{"field":"s"}}},
{"data":{"name":"br"},"transform":[{"filter":"datum.p=='ii'"}],"mark":{"type":"line","color":"#808080","strokeWidth":1.3},"encoding":{"xOffset":{"field":"c","type":"nominal","sort":["NO","OGD"]},"y":{"field":"y","type":"quantitative","axis":null},"detail":{"field":"b","type":"nominal"},"order":{"field":"o","type":"quantitative"}}},
{"data":{"values":[{"gene":"COL16A1"}]},"mark":{"type":"text","fontSize":15,"fontStyle":"italic","fontWeight":"bold","dy":-14},"encoding":{"x":{"datum":"TGF-β"},"y":{"datum":2,"axis":null},"text":{"field":"gene"}}}
]},
{"width":200,"height":138,"title":{"text":"iii.","anchor":"start","frame":"group","dx":-16,"fontSize":15,"fontStyle":"italic","offset":-10},
"resolve":{"axis":{"y":"independent"}},
"encoding":{"x":{"field":"t","type":"nominal","sort":["Vehicle","TGF-β","Aβ 1-40"],"scale":{"type":"band","paddingInner":0.343,"paddingOuter":0.1},"axis":{"title":null,"labelAngle":0,"labelFontSize":17,"labelFontWeight":"bold","labelPadding":3,"tickSize":5,"tickWidth":1.5,"domainWidth":2}}},
"layer":[
{"data":{"name":"bars"},"transform":[{"filter":"datum.p=='iii'"}],"mark":{"type":"bar","stroke":"black","strokeWidth":1.5},"encoding":{"xOffset":{"field":"c","type":"nominal","sort":["NO","OGD"],"scale":{"type":"band","paddingInner":0.296,"paddingOuter":0}},"y":{"field":"m","type":"quantitative","scale":{"domain":[0,4],"nice":false},"axis":{"title":null,"values":[0,1,2,3,4],"format":"~g","labelOverlap":false,"labelFontSize":16,"labelFontWeight":"bold","tickSize":5,"tickWidth":1.5,"domainWidth":2,"labelPadding":2}},"color":{"field":"c","type":"nominal","scale":{"domain":["NO","OGD"],"range":["#23875e","#25e525"]},"legend":{"orient":"none","legendX":32,"legendY":187,"direction":"horizontal","title":null,"symbolType":"M-1,-0.6H1V0.6H-1Z","symbolSize":196,"symbolStrokeColor":"black","symbolStrokeWidth":1.2,"labelFontSize":16,"columnPadding":14,"labelOffset":5}}}},
{"data":{"name":"bars"},"transform":[{"filter":"datum.p=='iii'"}],"mark":{"type":"rule","color":"black","strokeWidth":1.5},"encoding":{"xOffset":{"field":"c","type":"nominal","sort":["NO","OGD"]},"y":{"field":"m","type":"quantitative","axis":null},"y2":{"field":"hi"}}},
{"data":{"name":"bars"},"transform":[{"filter":"datum.p=='iii'"}],"mark":{"type":"tick","color":"black","thickness":1.5,"size":10,"orient":"horizontal"},"encoding":{"xOffset":{"field":"c","type":"nominal","sort":["NO","OGD"]},"y":{"field":"hi","type":"quantitative","axis":null}}},
{"data":{"name":"bars"},"transform":[{"filter":"datum.p=='iii'"}],"mark":{"type":"text","fontSize":20,"fontWeight":"bold","baseline":"alphabetic","dy":5},"encoding":{"xOffset":{"field":"c","type":"nominal","sort":["NO","OGD"]},"y":{"field":"hi","type":"quantitative","axis":null},"text":{"field":"s"}}},
{"data":{"name":"br"},"transform":[{"filter":"datum.p=='iii'"}],"mark":{"type":"line","color":"#808080","strokeWidth":1.3},"encoding":{"xOffset":{"field":"c","type":"nominal","sort":["NO","OGD"]},"y":{"field":"y","type":"quantitative","axis":null},"detail":{"field":"b","type":"nominal"},"order":{"field":"o","type":"quantitative"}}},
{"data":{"values":[{"gene":"FBLN5"}]},"mark":{"type":"text","fontSize":15,"fontStyle":"italic","fontWeight":"bold","dy":-14},"encoding":{"x":{"datum":"TGF-β"},"y":{"datum":4,"axis":null},"text":{"field":"gene"}}}
]},
{"width":200,"height":138,"title":{"text":"iv.","anchor":"start","frame":"group","dx":-16,"fontSize":15,"fontStyle":"italic","offset":-10},
"resolve":{"axis":{"y":"independent"}},
"encoding":{"x":{"field":"t","type":"nominal","sort":["Vehicle","TGF-β","Aβ 1-40"],"scale":{"type":"band","paddingInner":0.343,"paddingOuter":0.1},"axis":{"title":null,"labelAngle":0,"labelFontSize":17,"labelFontWeight":"bold","labelPadding":3,"tickSize":5,"tickWidth":1.5,"domainWidth":2}}},
"layer":[
{"data":{"name":"bars"},"transform":[{"filter":"datum.p=='iv'"}],"mark":{"type":"bar","stroke":"black","strokeWidth":1.5},"encoding":{"xOffset":{"field":"c","type":"nominal","sort":["NO","OGD"],"scale":{"type":"band","paddingInner":0.296,"paddingOuter":0}},"y":{"field":"m","type":"quantitative","scale":{"domain":[0,4],"nice":false},"axis":{"title":"Expression (ΔΔCT)","values":[0,1,2,3,4],"format":"~g","labelOverlap":false,"labelFontSize":16,"labelFontWeight":"bold","tickSize":5,"tickWidth":1.5,"domainWidth":2,"titleFontSize":14.5,"titleFontWeight":"bold","titlePadding":4,"labelPadding":2}},"color":{"field":"c","type":"nominal","scale":{"domain":["NO","OGD"],"range":["#9e1a2c","#ff2a10"]},"legend":{"orient":"none","legendX":32,"legendY":187,"direction":"horizontal","title":null,"symbolType":"M-1,-0.6H1V0.6H-1Z","symbolSize":196,"symbolStrokeColor":"black","symbolStrokeWidth":1.2,"labelFontSize":16,"columnPadding":14,"labelOffset":5}}}},
{"data":{"name":"bars"},"transform":[{"filter":"datum.p=='iv'"}],"mark":{"type":"rule","color":"black","strokeWidth":1.5},"encoding":{"xOffset":{"field":"c","type":"nominal","sort":["NO","OGD"]},"y":{"field":"m","type":"quantitative","axis":null},"y2":{"field":"hi"}}},
{"data":{"name":"bars"},"transform":[{"filter":"datum.p=='iv'"}],"mark":{"type":"tick","color":"black","thickness":1.5,"size":10,"orient":"horizontal"},"encoding":{"xOffset":{"field":"c","type":"nominal","sort":["NO","OGD"]},"y":{"field":"hi","type":"quantitative","axis":null}}},
{"data":{"name":"bars"},"transform":[{"filter":"datum.p=='iv'"}],"mark":{"type":"text","fontSize":20,"fontWeight":"bold","baseline":"alphabetic","dy":5},"encoding":{"xOffset":{"field":"c","type":"nominal","sort":["NO","OGD"]},"y":{"field":"hi","type":"quantitative","axis":null},"text":{"field":"s"}}},
{"data":{"name":"br"},"transform":[{"filter":"datum.p=='iv'"}],"mark":{"type":"line","color":"#808080","strokeWidth":1.3},"encoding":{"xOffset":{"field":"c","type":"nominal","sort":["NO","OGD"]},"y":{"field":"y","type":"quantitative","axis":null},"detail":{"field":"b","type":"nominal"},"order":{"field":"o","type":"quantitative"}}},
{"data":{"values":[{"gene":"FN1"}]},"mark":{"type":"text","fontSize":15,"fontStyle":"italic","fontWeight":"bold","dy":-14},"encoding":{"x":{"datum":"TGF-β"},"y":{"datum":4,"axis":null},"text":{"field":"gene"}}}
]},
{"width":200,"height":138,"title":{"text":"v.","anchor":"start","frame":"group","dx":-16,"fontSize":15,"fontStyle":"italic","offset":-10},
"resolve":{"axis":{"y":"independent"}},
"encoding":{"x":{"field":"t","type":"nominal","sort":["Vehicle","TGF-β","Aβ 1-40"],"scale":{"type":"band","paddingInner":0.343,"paddingOuter":0.1},"axis":{"title":null,"labelAngle":0,"labelFontSize":17,"labelFontWeight":"bold","labelPadding":3,"tickSize":5,"tickWidth":1.5,"domainWidth":2}}},
"layer":[
{"data":{"name":"bars"},"transform":[{"filter":"datum.p=='v'"}],"mark":{"type":"bar","stroke":"black","strokeWidth":1.5},"encoding":{"xOffset":{"field":"c","type":"nominal","sort":["NO","OGD"],"scale":{"type":"band","paddingInner":0.296,"paddingOuter":0}},"y":{"field":"m","type":"quantitative","scale":{"domain":[0,2.5],"nice":false},"axis":{"title":null,"values":[0,0.5,1,1.5,2,2.5],"format":"~g","labelOverlap":false,"labelFontSize":16,"labelFontWeight":"bold","tickSize":5,"tickWidth":1.5,"domainWidth":2,"labelPadding":2}},"color":{"field":"c","type":"nominal","scale":{"domain":["NO","OGD"],"range":["#6f4b2f","#bf8a4c"]},"legend":{"orient":"none","legendX":32,"legendY":187,"direction":"horizontal","title":null,"symbolType":"M-1,-0.6H1V0.6H-1Z","symbolSize":196,"symbolStrokeColor":"black","symbolStrokeWidth":1.2,"labelFontSize":16,"columnPadding":14,"labelOffset":5}}}},
{"data":{"name":"bars"},"transform":[{"filter":"datum.p=='v'"}],"mark":{"type":"rule","color":"black","strokeWidth":1.5},"encoding":{"xOffset":{"field":"c","type":"nominal","sort":["NO","OGD"]},"y":{"field":"m","type":"quantitative","axis":null},"y2":{"field":"hi"}}},
{"data":{"name":"bars"},"transform":[{"filter":"datum.p=='v'"}],"mark":{"type":"tick","color":"black","thickness":1.5,"size":10,"orient":"horizontal"},"encoding":{"xOffset":{"field":"c","type":"nominal","sort":["NO","OGD"]},"y":{"field":"hi","type":"quantitative","axis":null}}},
{"data":{"values":[{"gene":"HSPG2"}]},"mark":{"type":"text","fontSize":15,"fontStyle":"italic","fontWeight":"bold","dy":-14},"encoding":{"x":{"datum":"TGF-β"},"y":{"datum":2.5,"axis":null},"text":{"field":"gene"}}}
]},
{"width":200,"height":138,"title":{"text":"vi.","anchor":"start","frame":"group","dx":-16,"fontSize":15,"fontStyle":"italic","offset":-10},
"resolve":{"axis":{"y":"independent"}},
"encoding":{"x":{"field":"t","type":"nominal","sort":["Vehicle","TGF-β","Aβ 1-40"],"scale":{"type":"band","paddingInner":0.343,"paddingOuter":0.1},"axis":{"title":null,"labelAngle":0,"labelFontSize":17,"labelFontWeight":"bold","labelPadding":3,"tickSize":5,"tickWidth":1.5,"domainWidth":2}}},
"layer":[
{"data":{"name":"bars"},"transform":[{"filter":"datum.p=='vi'"}],"mark":{"type":"bar","stroke":"black","strokeWidth":1.5},"encoding":{"xOffset":{"field":"c","type":"nominal","sort":["NO","OGD"],"scale":{"type":"band","paddingInner":0.296,"paddingOuter":0}},"y":{"field":"m","type":"quantitative","scale":{"domain":[0,1.5],"nice":false},"axis":{"title":null,"values":[0,0.5,1,1.5],"format":"~g","labelOverlap":false,"labelFontSize":16,"labelFontWeight":"bold","tickSize":5,"tickWidth":1.5,"domainWidth":2,"labelPadding":2}},"color":{"field":"c","type":"nominal","scale":{"domain":["NO","OGD"],"range":["#2b8a78","#22f2f2"]},"legend":{"orient":"none","legendX":32,"legendY":187,"direction":"horizontal","title":null,"symbolType":"M-1,-0.6H1V0.6H-1Z","symbolSize":196,"symbolStrokeColor":"black","symbolStrokeWidth":1.2,"labelFontSize":16,"columnPadding":14,"labelOffset":5}}}},
{"data":{"name":"bars"},"transform":[{"filter":"datum.p=='vi'"}],"mark":{"type":"rule","color":"black","strokeWidth":1.5},"encoding":{"xOffset":{"field":"c","type":"nominal","sort":["NO","OGD"]},"y":{"field":"m","type":"quantitative","axis":null},"y2":{"field":"hi"}}},
{"data":{"name":"bars"},"transform":[{"filter":"datum.p=='vi'"}],"mark":{"type":"tick","color":"black","thickness":1.5,"size":10,"orient":"horizontal"},"encoding":{"xOffset":{"field":"c","type":"nominal","sort":["NO","OGD"]},"y":{"field":"hi","type":"quantitative","axis":null}}},
{"data":{"name":"bars"},"transform":[{"filter":"datum.p=='vi'"}],"mark":{"type":"text","fontSize":20,"fontWeight":"bold","baseline":"alphabetic","dy":5},"encoding":{"xOffset":{"field":"c","type":"nominal","sort":["NO","OGD"]},"y":{"field":"hi","type":"quantitative","axis":null},"text":{"field":"s"}}},
{"data":{"name":"br"},"transform":[{"filter":"datum.p=='vi'"}],"mark":{"type":"line","color":"#808080","strokeWidth":1.3},"encoding":{"xOffset":{"field":"c","type":"nominal","sort":["NO","OGD"]},"y":{"field":"y","type":"quantitative","axis":null},"detail":{"field":"b","type":"nominal"},"order":{"field":"o","type":"quantitative"}}},
{"data":{"values":[{"gene":"SDC2"}]},"mark":{"type":"text","fontSize":15,"fontStyle":"italic","fontWeight":"bold","dy":-14},"encoding":{"x":{"datum":"TGF-β"},"y":{"datum":1.5,"axis":null},"text":{"field":"gene"}}}
]},
{"width":200,"height":138,"title":{"text":"vii.","anchor":"start","frame":"group","dx":-16,"fontSize":15,"fontStyle":"italic","offset":-10},
"resolve":{"axis":{"y":"independent"}},
"encoding":{"x":{"field":"t","type":"nominal","sort":["Vehicle","TGF-β","Aβ 1-40"],"scale":{"type":"band","paddingInner":0.343,"paddingOuter":0.1},"axis":{"title":null,"labelAngle":0,"labelFontSize":17,"labelFontWeight":"bold","labelPadding":3,"tickSize":5,"tickWidth":1.5,"domainWidth":2}}},
"layer":[
{"data":{"name":"bars"},"transform":[{"filter":"datum.p=='vii'"}],"mark":{"type":"bar","stroke":"black","strokeWidth":1.5},"encoding":{"xOffset":{"field":"c","type":"nominal","sort":["NO","OGD"],"scale":{"type":"band","paddingInner":0.296,"paddingOuter":0}},"y":{"field":"m","type":"quantitative","scale":{"domain":[0,5],"nice":false},"axis":{"title":"Expression (ΔΔCT)","values":[0,1,2,3,4,5],"format":"~g","labelOverlap":false,"labelFontSize":16,"labelFontWeight":"bold","tickSize":5,"tickWidth":1.5,"domainWidth":2,"titleFontSize":14.5,"titleFontWeight":"bold","titlePadding":4,"labelPadding":2}},"color":{"field":"c","type":"nominal","scale":{"domain":["NO","OGD"],"range":["#a22a80","#ff45ff"]},"legend":{"orient":"none","legendX":32,"legendY":187,"direction":"horizontal","title":null,"symbolType":"M-1,-0.6H1V0.6H-1Z","symbolSize":196,"symbolStrokeColor":"black","symbolStrokeWidth":1.2,"labelFontSize":16,"columnPadding":14,"labelOffset":5}}}},
{"data":{"name":"bars"},"transform":[{"filter":"datum.p=='vii'"}],"mark":{"type":"rule","color":"black","strokeWidth":1.5},"encoding":{"xOffset":{"field":"c","type":"nominal","sort":["NO","OGD"]},"y":{"field":"m","type":"quantitative","axis":null},"y2":{"field":"hi"}}},
{"data":{"name":"bars"},"transform":[{"filter":"datum.p=='vii'"}],"mark":{"type":"tick","color":"black","thickness":1.5,"size":10,"orient":"horizontal"},"encoding":{"xOffset":{"field":"c","type":"nominal","sort":["NO","OGD"]},"y":{"field":"hi","type":"quantitative","axis":null}}},
{"data":{"name":"bars"},"transform":[{"filter":"datum.p=='vii'"}],"mark":{"type":"text","fontSize":20,"fontWeight":"bold","baseline":"alphabetic","dy":5},"encoding":{"xOffset":{"field":"c","type":"nominal","sort":["NO","OGD"]},"y":{"field":"hi","type":"quantitative","axis":null},"text":{"field":"s"}}},
{"data":{"name":"ann"},"mark":{"type":"text","fontSize":20,"fontWeight":"bold","baseline":"alphabetic","dy":5},"encoding":{"xOffset":{"field":"c","type":"nominal","sort":["NO","OGD"]},"y":{"field":"y","type":"quantitative","axis":null},"text":{"field":"s"}}},
{"data":{"name":"br"},"transform":[{"filter":"datum.p=='vii'"}],"mark":{"type":"line","color":"#808080","strokeWidth":1.3},"encoding":{"xOffset":{"field":"c","type":"nominal","sort":["NO","OGD"]},"y":{"field":"y","type":"quantitative","axis":null},"detail":{"field":"b","type":"nominal"},"order":{"field":"o","type":"quantitative"}}},
{"data":{"values":[{"gene":"ITGA5"}]},"mark":{"type":"text","fontSize":15,"fontStyle":"italic","fontWeight":"bold","dy":-16},"encoding":{"x":{"datum":"TGF-β"},"y":{"datum":5,"axis":null},"text":{"field":"gene"}}}
]},
{"width":200,"height":138,"title":{"text":"viii.","anchor":"start","frame":"group","dx":-16,"fontSize":15,"fontStyle":"italic","offset":-10},
"resolve":{"axis":{"y":"independent"}},
"encoding":{"x":{"field":"t","type":"nominal","sort":["Vehicle","TGF-β","Aβ 1-40"],"scale":{"type":"band","paddingInner":0.343,"paddingOuter":0.1},"axis":{"title":null,"labelAngle":0,"labelFontSize":17,"labelFontWeight":"bold","labelPadding":3,"tickSize":5,"tickWidth":1.5,"domainWidth":2}}},
"layer":[
{"data":{"name":"bars"},"transform":[{"filter":"datum.p=='viii'"}],"mark":{"type":"bar","stroke":"black","strokeWidth":1.5},"encoding":{"xOffset":{"field":"c","type":"nominal","sort":["NO","OGD"],"scale":{"type":"band","paddingInner":0.296,"paddingOuter":0}},"y":{"field":"m","type":"quantitative","scale":{"domain":[0,2],"nice":false},"axis":{"title":null,"values":[0,0.5,1,1.5,2],"format":"~g","labelOverlap":false,"labelFontSize":16,"labelFontWeight":"bold","tickSize":5,"tickWidth":1.5,"domainWidth":2,"labelPadding":2}},"color":{"field":"c","type":"nominal","scale":{"domain":["NO","OGD"],"range":["#4c0f46","#a1309f"]},"legend":{"orient":"none","legendX":32,"legendY":187,"direction":"horizontal","title":null,"symbolType":"M-1,-0.6H1V0.6H-1Z","symbolSize":196,"symbolStrokeColor":"black","symbolStrokeWidth":1.2,"labelFontSize":16,"columnPadding":14,"labelOffset":5}}}},
{"data":{"name":"bars"},"transform":[{"filter":"datum.p=='viii'"}],"mark":{"type":"rule","color":"black","strokeWidth":1.5},"encoding":{"xOffset":{"field":"c","type":"nominal","sort":["NO","OGD"]},"y":{"field":"m","type":"quantitative","axis":null},"y2":{"field":"hi"}}},
{"data":{"name":"bars"},"transform":[{"filter":"datum.p=='viii'"}],"mark":{"type":"tick","color":"black","thickness":1.5,"size":10,"orient":"horizontal"},"encoding":{"xOffset":{"field":"c","type":"nominal","sort":["NO","OGD"]},"y":{"field":"hi","type":"quantitative","axis":null}}},
{"data":{"values":[{"gene":"ITGB1"}]},"mark":{"type":"text","fontSize":15,"fontStyle":"italic","fontWeight":"bold","dy":-16},"encoding":{"x":{"datum":"TGF-β"},"y":{"datum":2,"axis":null},"text":{"field":"gene"}}}
]},
{"width":200,"height":138,"title":{"text":"ix.","anchor":"start","frame":"group","dx":-16,"fontSize":15,"fontStyle":"italic","offset":-10},
"resolve":{"axis":{"y":"independent"}},
"encoding":{"x":{"field":"t","type":"nominal","sort":["Vehicle","TGF-β","Aβ 1-40"],"scale":{"type":"band","paddingInner":0.343,"paddingOuter":0.1},"axis":{"title":null,"labelAngle":0,"labelFontSize":17,"labelFontWeight":"bold","labelPadding":3,"tickSize":5,"tickWidth":1.5,"domainWidth":2}}},
"layer":[
{"data":{"name":"bars"},"transform":[{"filter":"datum.p=='ix'"}],"mark":{"type":"bar","stroke":"black","strokeWidth":1.5},"encoding":{"xOffset":{"field":"c","type":"nominal","sort":["NO","OGD"],"scale":{"type":"band","paddingInner":0.296,"paddingOuter":0}},"y":{"field":"m","type":"quantitative","scale":{"domain":[0,1.5],"nice":false},"axis":{"title":null,"values":[0,0.5,1,1.5],"format":"~g","labelOverlap":false,"labelFontSize":16,"labelFontWeight":"bold","tickSize":5,"tickWidth":1.5,"domainWidth":2,"labelPadding":2}},"color":{"field":"c","type":"nominal","scale":{"domain":["NO","OGD"],"range":["#a9582e","#ff9b12"]},"legend":{"orient":"none","legendX":32,"legendY":187,"direction":"horizontal","title":null,"symbolType":"M-1,-0.6H1V0.6H-1Z","symbolSize":196,"symbolStrokeColor":"black","symbolStrokeWidth":1.2,"labelFontSize":16,"columnPadding":14,"labelOffset":5}}}},
{"data":{"name":"bars"},"transform":[{"filter":"datum.p=='ix'"}],"mark":{"type":"rule","color":"black","strokeWidth":1.5},"encoding":{"xOffset":{"field":"c","type":"nominal","sort":["NO","OGD"]},"y":{"field":"m","type":"quantitative","axis":null},"y2":{"field":"hi"}}},
{"data":{"name":"bars"},"transform":[{"filter":"datum.p=='ix'"}],"mark":{"type":"tick","color":"black","thickness":1.5,"size":10,"orient":"horizontal"},"encoding":{"xOffset":{"field":"c","type":"nominal","sort":["NO","OGD"]},"y":{"field":"hi","type":"quantitative","axis":null}}},
{"data":{"values":[{"gene":"APP"}]},"mark":{"type":"text","fontSize":15,"fontStyle":"italic","fontWeight":"bold","dy":-16},"encoding":{"x":{"datum":"TGF-β"},"y":{"datum":1.5,"axis":null},"text":{"field":"gene"}}}
]}
]
}
],
"spacing":28
}
